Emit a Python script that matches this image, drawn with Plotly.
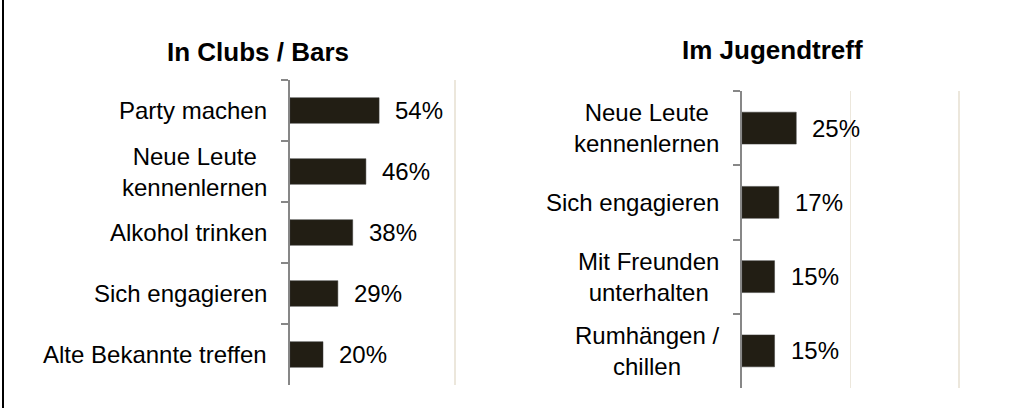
import plotly.graph_objects as go

W, H = 1024, 408

# Data
clubs_categories = ["Party machen", "Neue Leute<br>kennenlernen", "Alkohol trinken",
                    "Sich engagieren", "Alte Bekannte treffen"]
clubs_values = [54, 46, 38, 29, 20]

jugend_categories = ["Neue Leute<br>kennenlernen", "Sich engagieren",
                     "Mit Freunden<br>unterhalten", "Rumhängen /<br>chillen"]
jugend_values = [25, 17, 15, 15]

panel_titles = ["In Clubs / Bars", "Im Jugendtreff"]

BAR = "#221e14"
AXIS = "#878787"
GRID = "#ece7dc"
FONT = "Liberation Sans, Arial, sans-serif"

fig = go.Figure()
fig.add_trace(go.Bar(x=clubs_values, y=clubs_categories, orientation="h",
                     marker=dict(color=BAR, line=dict(color="#3a3a38", width=0.5)),
                     width=0.42, xaxis="x", yaxis="y", hoverinfo="skip"))
fig.add_trace(go.Bar(x=jugend_values, y=jugend_categories, orientation="h",
                     marker=dict(color=BAR, line=dict(color="#3a3a38", width=0.5)),
                     width=0.43, xaxis="x2", yaxis="y2", hoverinfo="skip"))

def px_x(p):
    return p / W

def px_y(p):
    return 1 - p / H

common_x = dict(range=[0, 101], showticklabels=False, ticks="", showline=False,
                zeroline=False, showgrid=True, gridcolor=GRID, gridwidth=1.5,
                fixedrange=True)
common_y = dict(type="category", autorange="reversed", showticklabels=False,
                showline=True, linecolor=AXIS, linewidth=2, ticks="outside",
                tickson="boundaries", ticklen=7, tickwidth=2, tickcolor=AXIS,
                showgrid=False, zeroline=False, fixedrange=True)

fig.update_layout(
    width=W, height=H,
    margin=dict(l=0, r=0, t=0, b=0),
    paper_bgcolor="white", plot_bgcolor="rgba(0,0,0,0)",
    showlegend=False,
    font=dict(family=FONT, size=24, color="#000000"),
    xaxis=dict(domain=[px_x(290), px_x(290 + 1.65 * 101)], tickvals=[100], anchor="y", **common_x),
    yaxis=dict(domain=[px_y(385), px_y(80)], anchor="x", **common_y),
    xaxis2=dict(domain=[px_x(742), px_x(742 + 2.17 * 101)], tickvals=[50, 100], anchor="y2", **common_x),
    yaxis2=dict(domain=[px_y(388), px_y(91)], anchor="x2", **common_y),
)

ann = []
# category labels
for cats, xr, yr in [(clubs_categories, "x", "y"), (jugend_categories, "x2", "y2")]:
    for c in cats:
        ann.append(dict(x=0, y=c, xref=xr, yref=yr, text=c, showarrow=False,
                        xanchor="right", yanchor="middle", xshift=-21, align="center",
                        font=dict(family=FONT, size=24, color="#000000")))
# value labels
for cats, vals, xr, yr in [(clubs_categories, clubs_values, "x", "y"),
                           (jugend_categories, jugend_values, "x2", "y2")]:
    for c, v in zip(cats, vals):
        ann.append(dict(x=v, y=c, xref=xr, yref=yr, text=f"{v}%", showarrow=False,
                        xanchor="left", yanchor="middle", xshift=14,
                        font=dict(family=FONT, size=24, color="#000000")))
# panel titles
for t, cx, cy in zip(panel_titles, [258, 772], [52, 50]):
    ann.append(dict(x=px_x(cx), y=px_y(cy), xref="paper", yref="paper", text=f"<b>{t}</b>",
                    showarrow=False, xanchor="center", yanchor="middle",
                    font=dict(family=FONT, size=26, color="#000000")))
fig.update_layout(annotations=ann)

# left frame line
fig.add_shape(type="line", xref="paper", yref="paper", x0=px_x(3), x1=px_x(3), y0=0, y1=1,
              line=dict(color="#000000", width=2))

fig.write_html("out.html", config={"displayModeBar": False, "staticPlot": True},
               post_script="document.body.style.margin='0';document.body.style.overflow='hidden';")
